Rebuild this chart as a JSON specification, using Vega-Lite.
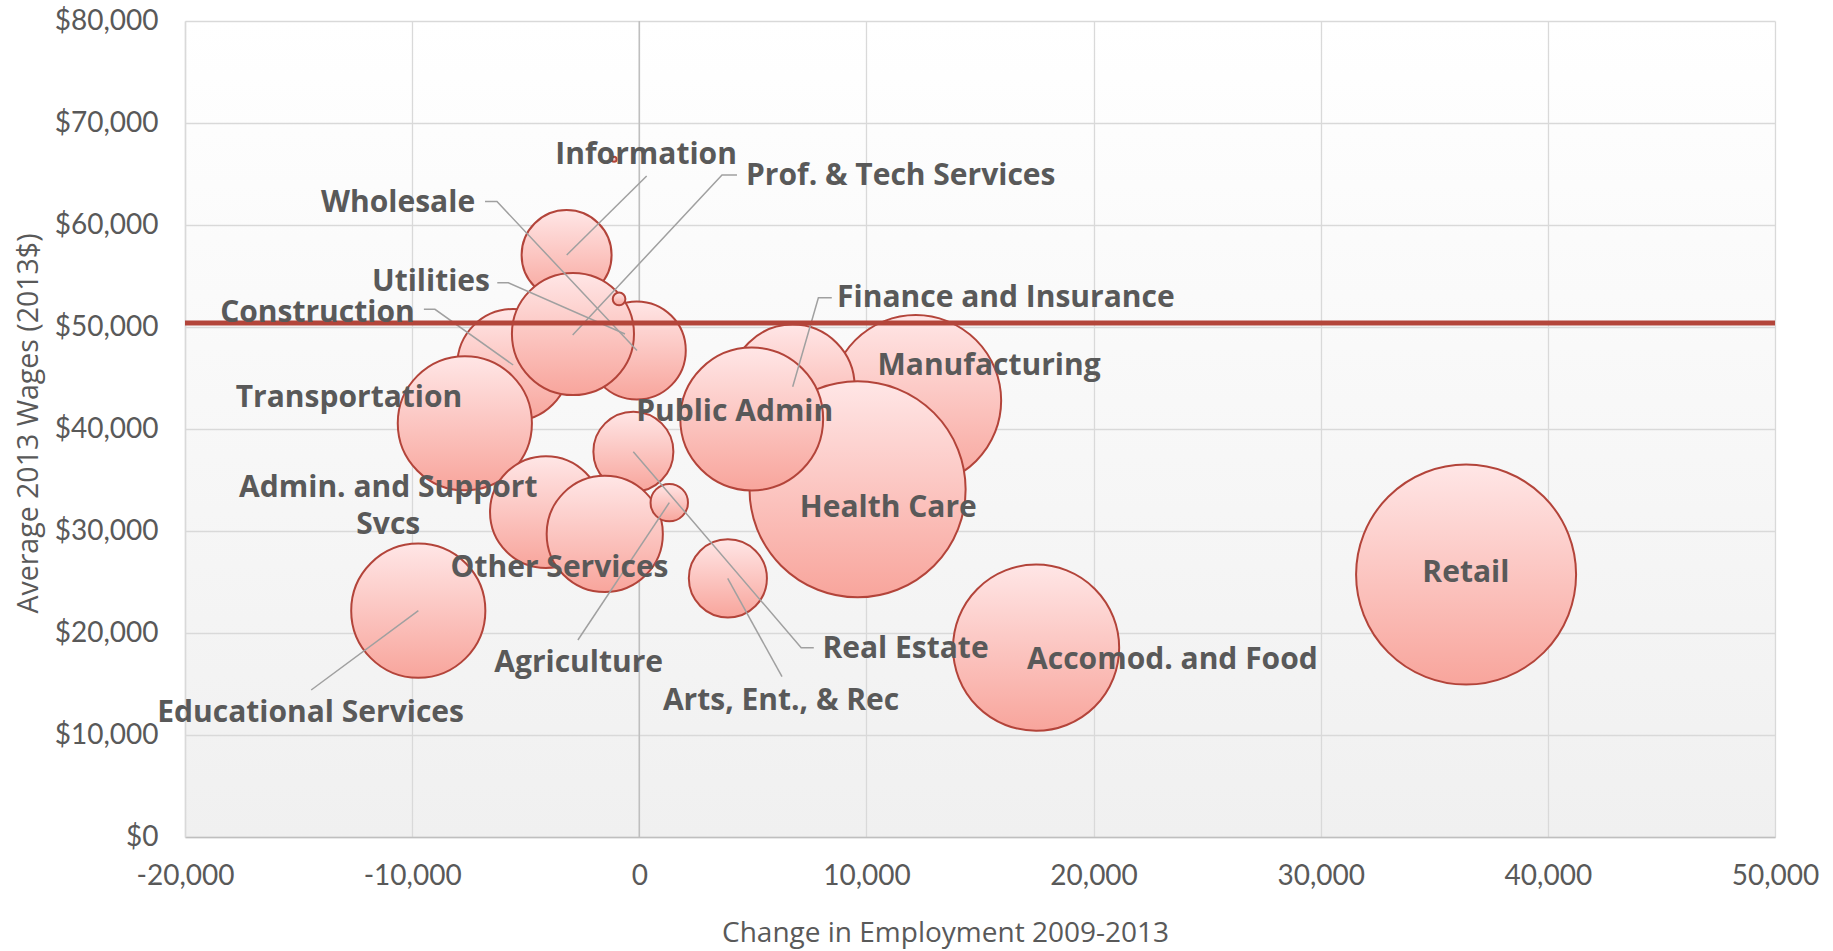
{
  "$schema": "https://vega.github.io/schema/vega-lite/v6.json",
  "width": 1590,
  "height": 816,
  "autosize": {"type": "none"},
  "padding": {"left": 185, "top": 21, "right": 58, "bottom": 114},
  "background": "#ffffff",
  "config": {
    "view": {
      "stroke": null,
      "fill": {"gradient": "linear", "x1": 0, "y1": 0, "x2": 0, "y2": 1, "stops": [{"offset": 0, "color": "#ffffff"}, {"offset": 1, "color": "#f0f0f0"}]}
    },
    "font": "Lato"
  },
  "datasets": {
    "bubbles": [
      {"industry": "Information", "change": -3200, "wage": 57060, "employment": 8100},
      {"industry": "Construction", "change": -5550, "wage": 46280, "employment": 12500},
      {"industry": "Wholesale", "change": -110, "wage": 47700, "employment": 9600},
      {"industry": "Prof. & Tech Services", "change": -2920, "wage": 49310, "employment": 14900},
      {"industry": "Utilities", "change": -890, "wage": 52750, "employment": 160},
      {"industry": "Transportation", "change": -7680, "wage": 40560, "employment": 18000},
      {"industry": "Manufacturing", "change": 12170, "wage": 42790, "employment": 29200},
      {"industry": "Finance and Insurance", "change": 6750, "wage": 44150, "employment": 15400},
      {"industry": "Health Care", "change": 9610, "wage": 34090, "employment": 46700},
      {"industry": "Public Admin", "change": 4950, "wage": 40980, "employment": 20400},
      {"industry": "Admin. and Support Svcs", "change": -4110, "wage": 31860, "employment": 12500},
      {"industry": "Real Estate", "change": -260, "wage": 37780, "employment": 6400},
      {"industry": "Other Services", "change": -1520, "wage": 29710, "employment": 13500},
      {"industry": "Agriculture", "change": 1320, "wage": 32780, "employment": 1400},
      {"industry": "Arts, Ent., & Rec", "change": 3900, "wage": 25360, "employment": 6100},
      {"industry": "Educational Services", "change": -9730, "wage": 22190, "employment": 18000},
      {"industry": "Accomod. and Food", "change": 17470, "wage": 18560, "employment": 27600},
      {"industry": "Retail", "change": 36400, "wage": 25730, "employment": 48400},
      {"industry": "Mining", "change": -1110, "wage": 66440, "employment": 25}
    ],
    "labels": [
      {"label": "Information", "lx": 300, "ly": 66860},
      {"label": "Prof. & Tech Services", "lx": 11510, "ly": 64760},
      {"label": "Wholesale", "lx": -10620, "ly": 62120},
      {"label": "Utilities", "lx": -9170, "ly": 54450},
      {"label": "Construction", "lx": -14170, "ly": 51350},
      {"label": "Transportation", "lx": -12780, "ly": 43040},
      {"label": "Admin. and Support\nSvcs", "lx": -11050, "ly": 34220},
      {"label": "Other Services", "lx": -3510, "ly": 26370},
      {"label": "Educational Services", "lx": -14470, "ly": 12160},
      {"label": "Agriculture", "lx": -2670, "ly": 17060},
      {"label": "Arts, Ent., & Rec", "lx": 6240, "ly": 13380},
      {"label": "Real Estate", "lx": 11720, "ly": 18430},
      {"label": "Public Admin", "lx": 4200, "ly": 41700},
      {"label": "Finance and Insurance", "lx": 16140, "ly": 52840},
      {"label": "Manufacturing", "lx": 15400, "ly": 46180},
      {"label": "Health Care", "lx": 10960, "ly": 32300},
      {"label": "Accomod. and Food", "lx": 23470, "ly": 17350},
      {"label": "Retail", "lx": 36390, "ly": 25890}
    ],
    "leaders": [
      {"name": "Information", "seq": 1, "x": 326, "y": 64805},
      {"name": "Information", "seq": 2, "x": -3196, "y": 57059},
      {"name": "Prof. & Tech Services", "seq": 1, "x": 4301, "y": 64902},
      {"name": "Prof. & Tech Services", "seq": 2, "x": 3641, "y": 64902},
      {"name": "Prof. & Tech Services", "seq": 3, "x": -2932, "y": 49214},
      {"name": "Wholesale", "seq": 1, "x": -6793, "y": 62304},
      {"name": "Wholesale", "seq": 2, "x": -6265, "y": 62304},
      {"name": "Wholesale", "seq": 3, "x": -101, "y": 47696},
      {"name": "Utilities", "seq": 1, "x": -6252, "y": 54344},
      {"name": "Utilities", "seq": 2, "x": -5767, "y": 54344},
      {"name": "Utilities", "seq": 3, "x": -630, "y": 49314},
      {"name": "Construction", "seq": 1, "x": -9483, "y": 51736},
      {"name": "Construction", "seq": 2, "x": -8995, "y": 51736},
      {"name": "Construction", "seq": 3, "x": -5552, "y": 46275},
      {"name": "Educational Services", "seq": 1, "x": -14445, "y": 14412},
      {"name": "Educational Services", "seq": 2, "x": -9725, "y": 22187},
      {"name": "Agriculture", "seq": 1, "x": -2703, "y": 19314},
      {"name": "Agriculture", "seq": 2, "x": 1321, "y": 32775},
      {"name": "Arts, Ent., & Rec", "seq": 1, "x": 6283, "y": 15716},
      {"name": "Arts, Ent., & Rec", "seq": 2, "x": 3892, "y": 25363},
      {"name": "Real Estate", "seq": 1, "x": 7683, "y": 18559},
      {"name": "Real Estate", "seq": 2, "x": 7128, "y": 18559},
      {"name": "Real Estate", "seq": 3, "x": -264, "y": 37775},
      {"name": "Finance and Insurance", "seq": 1, "x": 8475, "y": 52873},
      {"name": "Finance and Insurance", "seq": 2, "x": 7885, "y": 52873},
      {"name": "Finance and Insurance", "seq": 3, "x": 6754, "y": 44147}
    ],
    "average": [{"wage": 50400}],
    "zero": [{"change": 0}]
  },
  "encoding": {
    "x": {
      "type": "quantitative",
      "scale": {"domain": [-20000, 50000], "nice": false, "zero": false}
    },
    "y": {
      "type": "quantitative",
      "scale": {"domain": [0, 80000], "nice": false}
    }
  },
  "layer": [
    {
      "data": {"name": "zero"},
      "mark": {"type": "rule", "color": "#BFBFBF", "strokeWidth": 1.5},
      "encoding": {
        "x": {
          "field": "change",
          "type": "quantitative",
          "title": "Change in Employment 2009-2013",
          "axis": {
            "values": [-20000, -10000, 0, 10000, 20000, 30000, 40000, 50000],
            "format": ",.0f",
            "labelExpr": "replace(datum.label, '\u2212', '-')",
            "grid": true,
            "gridColor": "#D9D9D9",
            "gridWidth": 1.3,
            "domainColor": "#BFBFBF",
            "domainWidth": 1.5,
            "ticks": false,
            "tickSize": 0,
            "labelFont": "Lato",
            "labelFontSize": 28,
            "labelColor": "#595959",
            "labelBaseline": "middle",
            "labelPadding": 39,
            "labelFlush": false,
            "labelOverlap": false,
            "titleFont": "Open Sans",
            "titleFontWeight": "normal",
            "titleFontSize": 28,
            "titleColor": "#595959",
            "titleBaseline": "middle",
            "titleX": 760,
            "titleY": 96
          }
        },
        "y": {"datum": 0, "type": "quantitative"},
        "y2": {"datum": 80000}
      }
    },
    {
      "data": {"name": "bubbles"},
      "mark": {
        "type": "circle",
        "opacity": 1,
        "fill": {"gradient": "linear", "x1": 0, "y1": 0, "x2": 0, "y2": 1, "stops": [{"offset": 0, "color": "#FFE6E6"}, {"offset": 1, "color": "#F8A59C"}]},
        "stroke": "#B3443A",
        "strokeWidth": 2
      },
      "encoding": {
        "x": {"field": "change", "type": "quantitative"},
        "y": {
          "field": "wage",
          "type": "quantitative",
          "title": "Average 2013 Wages (2013$)",
          "axis": {
            "values": [0, 10000, 20000, 30000, 40000, 50000, 60000, 70000, 80000],
            "format": "$,.0f",
            "grid": true,
            "gridColor": "#D9D9D9",
            "gridWidth": 1.3,
            "domainColor": "#D9D9D9",
            "domainWidth": 1.5,
            "ticks": false,
            "tickSize": 0,
            "labelFont": "Lato",
            "labelFontSize": 28,
            "labelColor": "#595959",
            "labelPadding": 27,
            "labelFlush": false,
            "labelOverlap": false,
            "titleFont": "Open Sans",
            "titleFontWeight": "normal",
            "titleFontSize": 28.5,
            "titleColor": "#595959",
            "titleAngle": -90,
            "titleBaseline": "middle",
            "titleAlign": "center",
            "titleX": -157,
            "titleY": 402
          }
        },
        "size": {
          "field": "employment",
          "type": "quantitative",
          "scale": {"type": "linear", "domain": [0, 48400], "range": [0, 48400], "zero": true},
          "legend": null
        }
      }
    },
    {
      "data": {"name": "leaders"},
      "mark": {"type": "line", "color": "#A0A0A0", "strokeWidth": 1.5},
      "encoding": {
        "x": {"field": "x", "type": "quantitative"},
        "y": {"field": "y", "type": "quantitative"},
        "detail": {"field": "name"},
        "order": {"field": "seq", "type": "quantitative"}
      }
    },
    {
      "data": {"name": "average"},
      "mark": {"type": "rule", "color": "#B3453A", "strokeWidth": 5},
      "encoding": {
        "y": {"field": "wage", "type": "quantitative"}
      }
    },
    {
      "data": {"name": "labels"},
      "mark": {
        "type": "text",
        "font": "Open Sans",
        "fontWeight": "bold",
        "fontSize": 30,
        "color": "#595959",
        "align": "center",
        "baseline": "middle",
        "lineBreak": "\n",
        "lineHeight": 37
      },
      "encoding": {
        "x": {"field": "lx", "type": "quantitative"},
        "y": {"field": "ly", "type": "quantitative"},
        "text": {"field": "label"}
      }
    }
  ]
}
